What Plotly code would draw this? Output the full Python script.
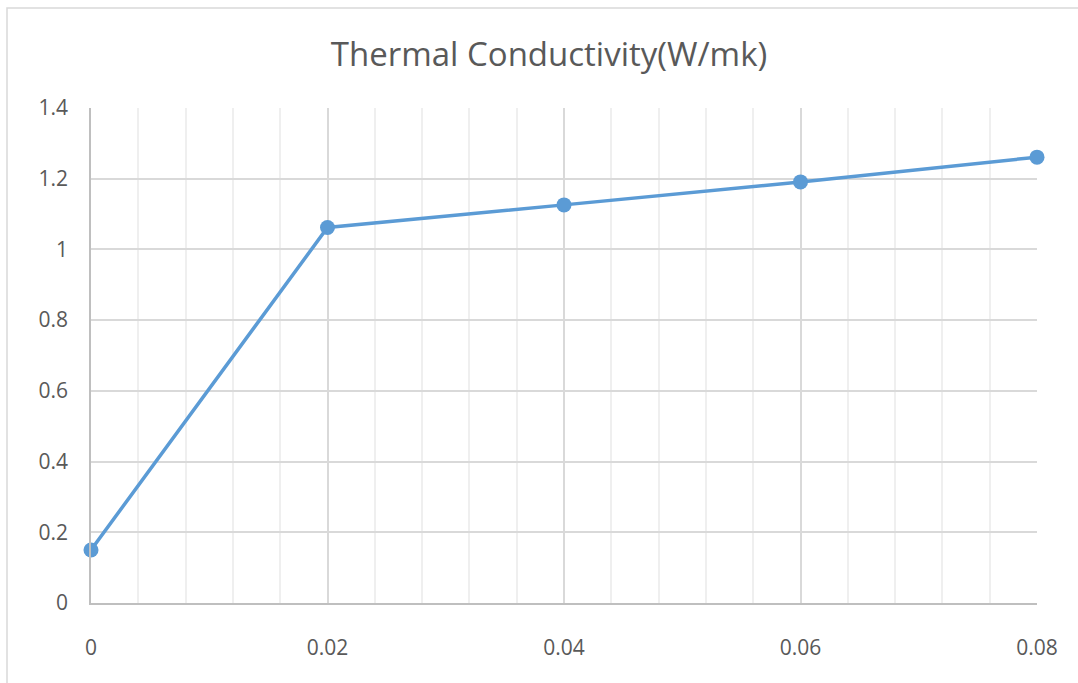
import plotly.graph_objects as go

x_vals = [0, 0.02, 0.04, 0.06, 0.08]
y_vals = [0.15, 1.062, 1.126, 1.191, 1.261]
title_text = "Thermal Conductivity(W/mk)"

W, H = 1078, 683
L, R, T, B = 91, 41, 108, 80
pw, ph = W - L - R, H - T - B

fig = go.Figure()
fig.add_trace(go.Scatter(
    x=x_vals, y=y_vals, mode="lines+markers",
    line=dict(color="#5B9BD5", width=3.5),
    marker=dict(color="#5B9BD5", size=15),
    cliponaxis=False, showlegend=False,
))

font_fam = "Open Sans, Noto Sans, sans-serif"
fig.update_layout(
    width=W, height=H,
    margin=dict(l=L, r=R, t=T, b=B),
    paper_bgcolor="white", plot_bgcolor="white",
    title=dict(text=title_text, x=(549 - L) / pw, xref="paper", xanchor="center",
               y=1 - 54 / H, yanchor="middle", yref="container",
               font=dict(family=font_fam, size=33, color="#595959")),
    xaxis=dict(range=[0, 0.08], dtick=0.02, tick0=0, showgrid=True,
               gridcolor="#D9D9D9", gridwidth=1.5, zeroline=False,
               showline=True, linecolor="#BFBFBF", linewidth=1.5,
               tickfont=dict(family=font_fam, size=21, color="#595959"),
               ticks="", ticklabelstandoff=25, tickformat="~g",
               minor=dict(dtick=0.004, tick0=0, showgrid=True, gridcolor="#EFEFEF", gridwidth=1.5)),
    yaxis=dict(range=[0, 1.4], dtick=0.2, tick0=0, showgrid=True,
               gridcolor="#D9D9D9", gridwidth=1.5, zeroline=False,
               showline=True, linecolor="#BFBFBF", linewidth=1.5,
               tickfont=dict(family=font_fam, size=21, color="#595959"),
               ticks="", ticklabelstandoff=17, tickformat="~g"),
)

# outer chart border
fig.add_shape(type="rect", xref="paper", yref="paper",
              x0=(7 - L) / pw, x1=(W + 20 - L) / pw,
              y0=(H - B - (H + 20)) / ph, y1=(H - B - 8) / ph,
              line=dict(color="#D9D9D9", width=1.5), fillcolor="rgba(0,0,0,0)", layer="below")

fig.write_html("out.html")
